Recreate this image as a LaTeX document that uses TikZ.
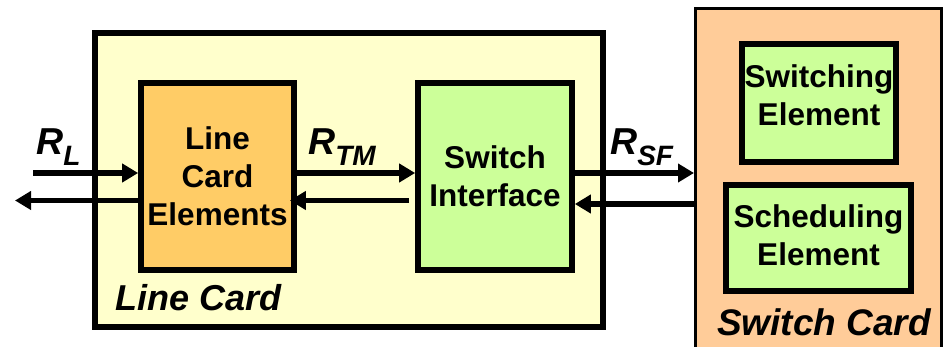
\documentclass[tikz,border=0pt]{standalone}
\usepackage{fontspec}
\setmainfont{Liberation Sans}
\usetikzlibrary{arrows.meta}
\definecolor{lcyellow}{HTML}{FFFFCC}
\definecolor{lceorange}{HTML}{FFCC66}
\definecolor{sigreen}{HTML}{CCFF99}
\definecolor{scpeach}{HTML}{FFCC99}
\tikzset{
  boxthick/.style={draw=black, line width=5.7pt, inner sep=0pt, align=center,
    font=\bfseries\fontsize{31.5}{38}\selectfont},
  arr/.style={line width=5.5pt, -{Triangle[length=16pt,width=18pt]}},
  cardlabel/.style={inner sep=0pt, anchor=base west, font=\bfseries\itshape\fontsize{36}{36}\selectfont},
  ratelabel/.style={inner sep=0pt, anchor=base west, font=\bfseries\itshape\fontsize{37.5}{37.5}\selectfont}
}
\newcommand{\ratesub}[1]{\raisebox{-11pt}{\fontsize{28}{28}\selectfont #1}}
\begin{document}
\begin{tikzpicture}[x=1pt,y=-1pt]
\useasboundingbox (0,0) rectangle (947,347);
\clip (0,0) rectangle (947,347);
% Line card
\node[boxthick, fill=lcyellow, minimum width=508pt, minimum height=294pt] (linecard) at (349,180) {};
\node[cardlabel] (lclabel) at (115,310) {Line Card};
% Switch card
\node[draw=black, line width=3pt, fill=scpeach, inner sep=0pt, minimum width=245.5pt, minimum height=371pt] (switchcard) at (818.25,194.5) {};
\node[cardlabel, font=\bfseries\itshape\fontsize{37}{37}\selectfont] (sclabel) at (717,335) {Switch Card};
% inner boxes
\node[boxthick, fill=lceorange, minimum width=153pt, minimum height=187pt] (lce) at (217.5,176.5) {Line\\Card\\Elements};
\node[boxthick, fill=sigreen, minimum width=154pt, minimum height=187pt] (si) at (495,176.5) {Switch\\Interface};
\node[boxthick, fill=sigreen, minimum width=154pt, minimum height=118pt, text depth=15pt] (swe) at (819,103) {Switching\\Element};
\node[boxthick, fill=sigreen, minimum width=185pt, minimum height=106pt, text depth=5pt] (sche) at (818.5,238) {Scheduling\\Element};
% coordinates
\coordinate (yf) at (0,173);
\coordinate (yb) at (0,200.5);
\coordinate (ybs) at (0,204);
\coordinate (inL) at (33,173);
\coordinate (outL) at (15,200.5);
% arrows
\draw[arr] (inL) -- (inL -| lce.west);
\draw[arr] (lce.west |- outL) -- (outL);
\draw[arr] (lce.east |- yf) -- (si.west |- yf);
\draw[arr] ([xshift=-6pt]si.west |- yb) -- ([xshift=-7pt]lce.east |- yb);
\draw[arr] (si.east |- yf) -- (switchcard.west |- yf);
\draw[arr] (switchcard.west |- ybs) -- (si.east |- ybs);
% rate labels
\node[ratelabel] (rl) at (36,155) {R\ratesub{L}};
\node[ratelabel] (rtm) at (308,155) {R\ratesub{TM}};
\node[ratelabel] (rsf) at (610,155) {R\ratesub{SF}};
\end{tikzpicture}
\end{document}
